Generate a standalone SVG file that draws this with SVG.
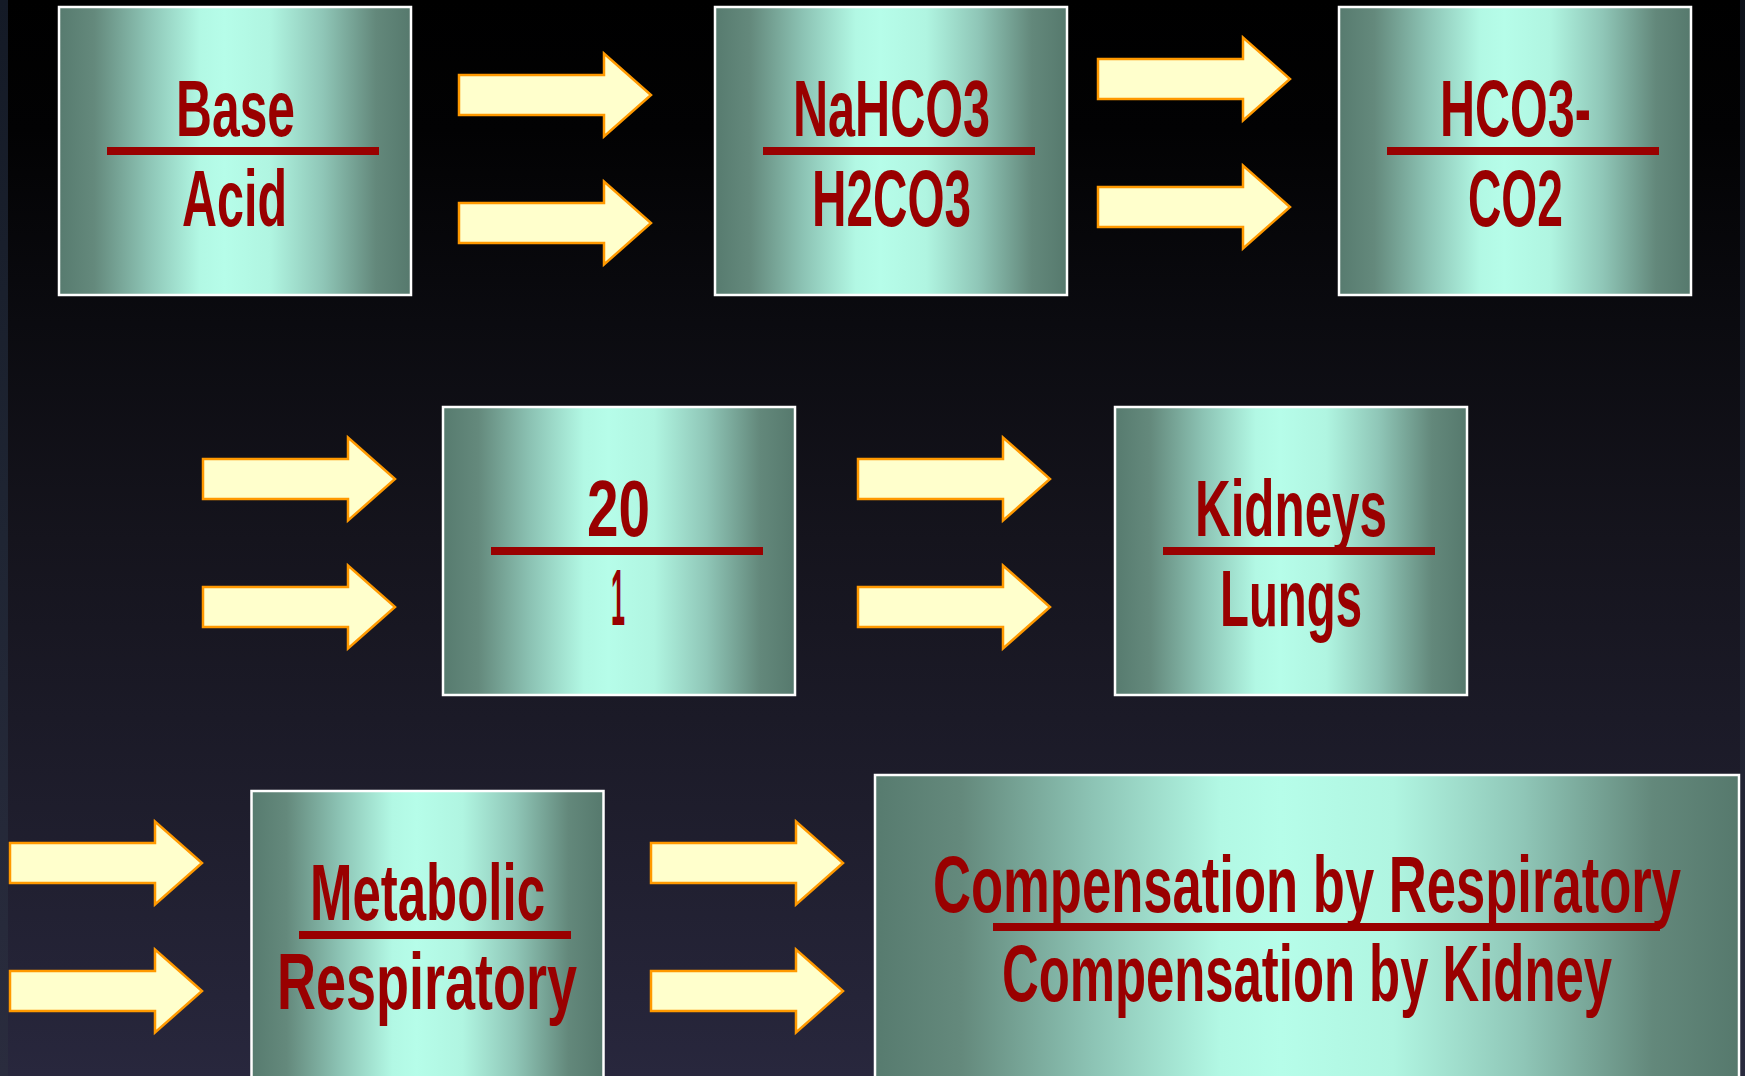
<svg xmlns="http://www.w3.org/2000/svg" width="1745" height="1076" viewBox="0 0 1745 1076">
<defs>
<linearGradient id="bg" x1="0" y1="0" x2="0" y2="1">
<stop offset="0" stop-color="#000000"/>
<stop offset="0.12" stop-color="#020203"/>
<stop offset="0.3" stop-color="#0b0b10"/>
<stop offset="0.5" stop-color="#15141d"/>
<stop offset="0.75" stop-color="#1e1d2c"/>
<stop offset="1" stop-color="#28273d"/>
</linearGradient>
<linearGradient id="edge" x1="0" y1="0" x2="0" y2="1">
<stop offset="0" stop-color="#141a26"/>
<stop offset="0.5" stop-color="#1f2533"/>
<stop offset="1" stop-color="#2a2c3e"/>
</linearGradient>
<linearGradient id="box" x1="0" y1="0" x2="1" y2="0">
<stop offset="0" stop-color="#577b6f"/>
<stop offset="0.1" stop-color="#64897c"/>
<stop offset="0.25" stop-color="#8cc3b4"/>
<stop offset="0.4" stop-color="#b2f8e4"/>
<stop offset="0.47" stop-color="#b6fde9"/>
<stop offset="0.6" stop-color="#b0f5e1"/>
<stop offset="0.75" stop-color="#8fc6b7"/>
<stop offset="0.9" stop-color="#63887b"/>
<stop offset="1" stop-color="#56796d"/>
</linearGradient>
<path id="arr" d="M0,-20 H145 V-41.5 L192,0 L145,41.5 V20 H0 Z"/>
</defs>
<style>
.box{fill:url(#box);stroke:#ffffff;stroke-width:2.5}
.div{fill:#990000}
.t{font-family:"Liberation Sans Narrow","Liberation Sans",Arial,sans-serif;font-weight:bold;font-size:80px;fill:#990000}
.arrow use{fill:#ffffcc;stroke:#ff9900;stroke-width:2.5;stroke-linejoin:miter}
</style>
<rect x="0" y="0" width="1745" height="1076" fill="url(#bg)"/>
<rect x="0" y="0" width="8" height="1076" fill="url(#edge)"/>
<rect x="1740" y="0" width="5" height="1076" fill="url(#edge)" opacity="0.7"/>

<g id="connectors" class="arrow">
<use href="#arr" x="459" y="95"/>
<use href="#arr" x="459" y="223"/>
<use href="#arr" x="1098" y="79"/>
<use href="#arr" x="1098" y="207"/>
<use href="#arr" x="203" y="479"/>
<use href="#arr" x="203" y="607"/>
<use href="#arr" x="858" y="479"/>
<use href="#arr" x="858" y="607"/>
<use href="#arr" x="10" y="863"/>
<use href="#arr" x="10" y="991"/>
<use href="#arr" x="651" y="863"/>
<use href="#arr" x="651" y="991"/>
</g>

<g id="node-base-acid">
<rect class="box" x="59" y="7" width="352" height="288"/>
<rect class="div" x="107" y="147" width="272" height="8"/>
<text class="t" x="176" y="136" textLength="119" lengthAdjust="spacingAndGlyphs">Base</text>
<text class="t" x="182" y="226" textLength="105" lengthAdjust="spacingAndGlyphs">Acid</text>
</g>

<g id="node-nahco3">
<rect class="box" x="715" y="7" width="352" height="288"/>
<rect class="div" x="763" y="147" width="272" height="8"/>
<text class="t" x="793" y="136" textLength="197" lengthAdjust="spacingAndGlyphs">NaHCO3</text>
<text class="t" x="812" y="226" textLength="159" lengthAdjust="spacingAndGlyphs">H2CO3</text>
</g>

<g id="node-hco3">
<rect class="box" x="1339" y="7" width="352" height="288"/>
<rect class="div" x="1387" y="147" width="272" height="8"/>
<text class="t" x="1440" y="136" textLength="151" lengthAdjust="spacingAndGlyphs">HCO3-</text>
<text class="t" x="1468" y="226" textLength="95" lengthAdjust="spacingAndGlyphs">CO2</text>
</g>

<g id="node-ratio">
<rect class="box" x="443" y="407" width="352" height="288"/>
<rect class="div" x="491" y="547" width="272" height="8"/>
<text class="t" x="587" y="536" textLength="63" lengthAdjust="spacingAndGlyphs">20</text>
<text class="t" x="611" y="625" textLength="14" lengthAdjust="spacingAndGlyphs">1</text>
</g>

<g id="node-kidneys-lungs">
<rect class="box" x="1115" y="407" width="352" height="288"/>
<rect class="div" x="1163" y="547" width="272" height="8"/>
<text class="t" x="1195" y="536" textLength="192" lengthAdjust="spacingAndGlyphs">Kidneys</text>
<text class="t" x="1220" y="626" textLength="142" lengthAdjust="spacingAndGlyphs">Lungs</text>
</g>

<g id="node-metabolic-respiratory">
<rect class="box" x="251.5" y="791" width="352" height="288"/>
<rect class="div" x="299" y="931" width="272" height="8"/>
<text class="t" x="310" y="920" textLength="235" lengthAdjust="spacingAndGlyphs">Metabolic</text>
<text class="t" x="277" y="1009" textLength="300" lengthAdjust="spacingAndGlyphs">Respiratory</text>
</g>

<g id="node-compensation">
<rect class="box" x="875" y="775" width="864" height="304"/>
<rect class="div" x="993" y="923" width="667" height="8"/>
<text class="t" x="933" y="912" textLength="748" lengthAdjust="spacingAndGlyphs">Compensation by Respiratory</text>
<text class="t" x="1002" y="1001" textLength="610" lengthAdjust="spacingAndGlyphs">Compensation by Kidney</text>
</g>
</svg>
